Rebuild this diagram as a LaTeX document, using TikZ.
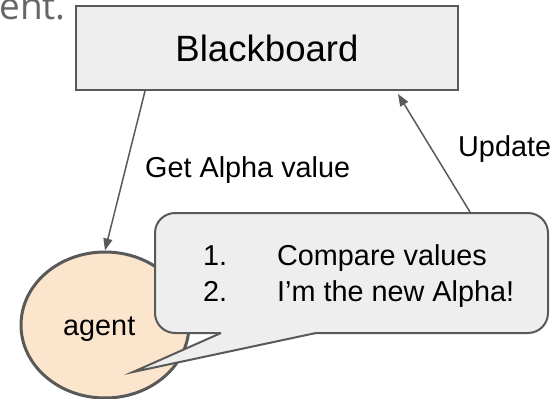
\documentclass[tikz,border=0pt]{standalone}
\usepackage{fontspec}
\setmainfont{Liberation Sans}
\newfontfamily\headfont{Open Sans}
\usetikzlibrary{shapes.geometric,arrows.meta}
\definecolor{edge}{HTML}{595959}
\definecolor{boardfill}{HTML}{EEEEEE}
\definecolor{agentfill}{HTML}{FCE5CD}
\definecolor{headgray}{HTML}{666666}
\begin{document}
\begin{tikzpicture}[x=1pt,y=-1pt,
  board/.style={draw=edge, line width=2pt, fill=boardfill, inner sep=0pt,
    minimum width=382pt, minimum height=84pt, font=\fontsize{36.6}{40}\selectfont},
  agentshape/.style={ellipse, draw=edge, line width=3pt, fill=agentfill,
    inner sep=0pt, minimum width=168pt, minimum height=146pt},
  bubbleshape/.style={draw=edge, line width=2pt, fill=boardfill,
    rounded corners=20pt, inner sep=0pt, minimum width=393pt, minimum height=120pt},
  txt/.style={inner sep=0pt, anchor=base west, font=\fontsize{28.8}{34}\selectfont},
  link/.style={draw=edge, line width=1.5pt, -{Triangle[length=12pt,width=9pt]}}
]
\useasboundingbox (0,0) rectangle (560,399);

% slide title fragment at the top left
\node[inner sep=0pt, anchor=base east, text=headgray,
  font=\headfont\fontsize{37}{40}\selectfont] (title) at (66,19) {ent.};

% blackboard
\node[board] (bb) at (267,48) {Blackboard};

% agent
\node[agentshape] (agent) at (105,325) {};
\node[txt] (agenttext) at (63,335) {agent};

% speech bubble with its pointer
\node[bubbleshape] (bubble) at (351.5,273) {};
\fill[boardfill] (221,333) -- (133,372) -- (316,333) -- (316,331) -- (221,331) -- cycle;
\draw[edge, line width=2pt, line join=miter] (221,333) -- (133,372) -- (316,333);
\node[txt] (line1) at (203,265) {\makebox[74pt][l]{1.}Compare values};
\node[txt] (line2) at (203,301.5) {\makebox[74pt][l]{2.}I’m the new Alpha!};

% connectors
\draw[link] ([xshift=70pt]bb.south west) -- (agent.north);
\draw[link] ([xshift=316pt]bubble.north west) -- ([xshift=-61pt,yshift=-3pt]bb.south east);
\node[txt] (getlbl) at (145,177) {Get Alpha value};
\node[txt] (updlbl) at (458,156) {Update};
\end{tikzpicture}
\end{document}
